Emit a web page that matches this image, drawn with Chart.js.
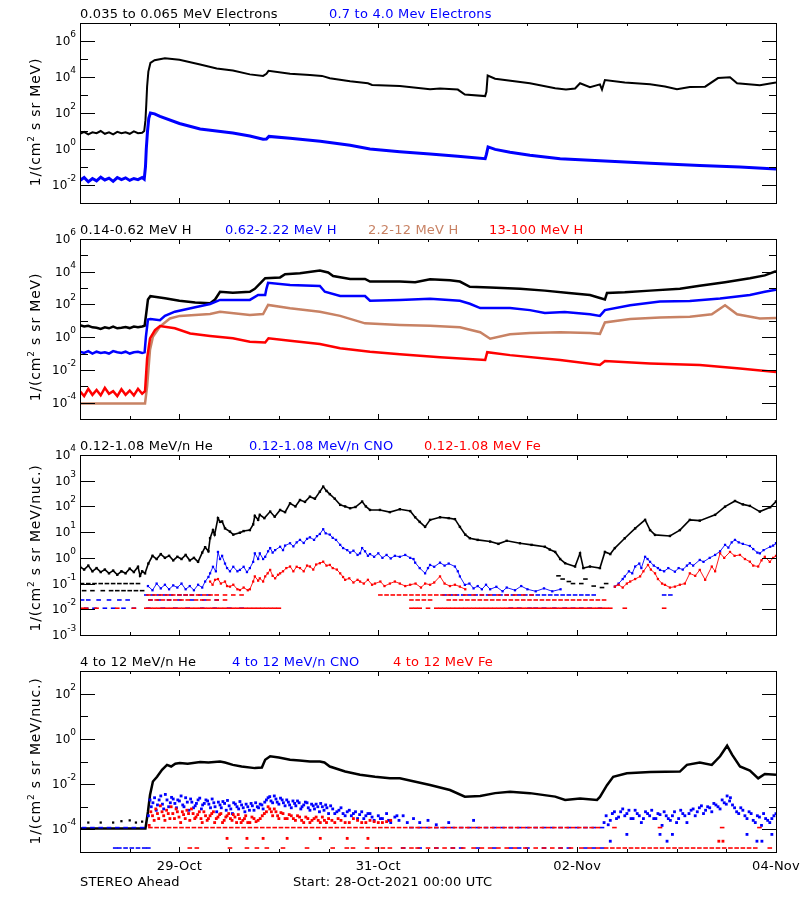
<!DOCTYPE html>
<html><head><meta charset="utf-8">
<script src="https://cdn.jsdelivr.net/npm/chart.js@4.4.0/dist/chart.umd.min.js"></script>
<style>
html,body{margin:0;padding:0;background:#fff;}
#wrap{position:relative;width:800px;height:900px;overflow:hidden;}
canvas{position:absolute;left:0;}
</style></head><body>
<div id="wrap">
<canvas id="c1" width="800" height="216" style="top:0px"></canvas>
<canvas id="c2" width="800" height="216" style="top:216px"></canvas>
<canvas id="c3" width="800" height="216" style="top:432px"></canvas>
<canvas id="c4" width="800" height="252" style="top:648px"></canvas>
</div>
<script>
const hourTicks = [0,12,24,36,48,60,72,84,96,108,120,132,144,156,168];
const hourMajor = [24,72,120,168];
const dayLabels = [['29-Oct',24],['31-Oct',72],['02-Nov',120],['04-Nov',168]];

// Panel 1: electrons  [hours since 28-Oct-2021 00:00, flux]
const eLow = [[0,7],[1,9],[2,6.5],[3,8.5],[4,7.5],[5,10],[6,7],[7,8.5],[8,6.5],[9,9],[10,7.5],[11,8.5],[12,7],[13,9.5],[14,7.5],[15,8],[15.5,10],[15.8,40],[16,300],[16.2,3e3],[16.5,2e4],[17,6e4],[18,8.5e4],[20.5,1.1e5],[24,9e4],[29,5e4],[33,3e4],[36.9,2.3e4],[41,1.4e4],[44.2,1.15e4],[45,1.5e4],[45.5,2.2e4],[50.7,1.5e4],[55.5,1.3e4],[58.4,1.15e4],[60.3,8.5e3],[65.2,5.8e3],[69.5,4.5e3],[70.5,3.6e3],[77.2,3.2e3],[84.5,2.1e3],[86.9,2.3e3],[91.2,2e3],[92.9,1.05e3],[97.8,870],[98.1,1.5e3],[98.4,1.2e4],[100.2,8e3],[108.6,4.5e3],[114.7,2.4e3],[117.3,2e3],[119.5,2.3e3],[120.7,4.5e3],[123.1,2.7e3],[125.5,3.9e3],[126,2e3],[126.7,6.8e3],[131.5,4.9e3],[137.6,3.9e3],[141.2,3e3],[144.1,2.1e3],[147.2,2.8e3],[150.9,2.9e3],[154,8.7e3],[156.9,9.6e3],[158.6,4.5e3],[164.1,3.5e3],[168,5e3]];
const eHigh = [[0,0.018],[1,0.026],[2,0.015],[3,0.023],[4,0.017],[5,0.027],[6,0.019],[7,0.024],[8,0.016],[9,0.026],[10,0.02],[11,0.025],[12,0.018],[13,0.023],[14,0.02],[15,0.026],[15.5,0.021],[15.8,0.1],[16,1],[16.3,10],[16.6,50],[17,100],[18,90],[19.3,65],[24,26],[29,13],[36.9,7.8],[41,5.3],[44.2,3.5],[45,3.6],[45.6,5],[50.7,3.9],[58,2.7],[65.2,1.6],[70,1],[77.2,0.7],[84.5,0.53],[91.2,0.39],[97.8,0.29],[98.1,0.5],[98.5,1.3],[100.2,0.95],[103.8,0.66],[108.6,0.45],[115.9,0.29],[125.5,0.22],[137.6,0.16],[149.6,0.12],[159.3,0.1],[168,0.078]];

// Panel 2: protons
const hA = [[0,5.5],[1,4.5],[2,5],[3,4],[4,3.8],[5,3.2],[6,4],[7,3.5],[8,4.5],[9,3.5],[10,3.8],[11,4.2],[12,3.6],[13,4.5],[14,4],[15,4.5],[15.6,5],[16,30],[16.4,200],[17,320],[18,300],[20.5,240],[24,170],[27.8,130],[31.4,120],[32.6,200],[33.8,600],[36.9,520],[41,600],[42.2,900],[43.9,2.5e3],[44.7,4e3],[48.3,4.5e3],[49.5,7e3],[53.1,8e3],[57.9,1.2e4],[59.9,9e3],[61.1,5.5e3],[65.2,3.6e3],[68.8,3.6e3],[70,2.5e3],[77.2,2.5e3],[80.9,2.3e3],[84.5,3.5e3],[89.3,3e3],[91.7,2.5e3],[94.1,1.2e3],[99,1.1e3],[106.2,900],[112.2,700],[118,500],[123.1,380],[125.5,250],[126.7,200],[127.2,500],[131.5,550],[137.6,700],[144.8,900],[149.6,1.4e3],[155.7,2.3e3],[161.7,4e3],[165.3,6e3],[168,1.1e4]];
const hB = [[0,0.13],[1,0.11],[2,0.14],[3,0.1],[4,0.13],[5,0.11],[6,0.12],[7,0.1],[8,0.14],[9,0.12],[10,0.11],[11,0.13],[12,0.1],[13,0.12],[14,0.13],[15,0.11],[15.6,0.12],[15.9,1],[16.4,12],[17,13],[19.3,11],[20.5,20],[22.9,36],[27.8,67],[31.4,107],[33.8,190],[41,190],[43,380],[44.7,380],[45,900],[45.4,2.1e3],[50.7,1.55e3],[57.9,1.35e3],[59.1,600],[62.8,330],[68.8,330],[70,170],[77.2,190],[84.5,220],[91.7,170],[94.1,110],[96.6,60],[103.8,60],[108.6,45],[112.2,30],[117,35],[123.1,25],[125.5,20],[126.7,45],[132.8,90],[140,150],[147.2,160],[154.5,230],[161.7,380],[165.3,600],[168,800]];
const hC = [[0,9e-5],[15.7,9e-5],[16.2,1e-3],[16.9,0.17],[17.6,1.07],[19.3,4.4],[21.7,14],[24.1,20],[31.4,26],[33.8,36],[41,23],[44.2,26],[45.4,93],[50.7,58],[57.9,36],[62.8,20],[68.8,7],[77.2,5.6],[84.5,5],[91.7,4],[96.6,2],[99,0.8],[103.8,1.5],[108.6,1.8],[115.9,2],[123.1,1.8],[125.5,1.6],[126.7,8],[132.8,13],[140,16],[147.2,18],[152.5,25],[155.7,90],[158.6,25],[164.1,14],[168,15]];
const hD = [[0,5e-4],[1,2.5e-4],[2,7e-4],[3,3e-4],[4,6e-4],[5,2.8e-4],[6,8e-4],[7,3.5e-4],[8,5e-4],[9,2.5e-4],[10,6.5e-4],[11,3e-4],[12,5.5e-4],[13,2.8e-4],[14,7e-4],[15,3.5e-4],[15.7,5e-4],[16.2,0.05],[16.9,0.85],[18.1,2.7],[19.3,4.8],[22.9,3.5],[26.6,1.7],[31.4,1.2],[36.9,0.85],[41,0.53],[44.7,0.47],[45.5,0.85],[50.7,0.61],[57.9,0.38],[62.8,0.21],[70,0.13],[77.2,0.09],[86.9,0.06],[97.8,0.04],[98.3,0.12],[103.8,0.08],[115.9,0.04],[125.5,0.02],[126.7,0.035],[137.6,0.025],[149.6,0.02],[159.3,0.012],[168,0.0075]];

// Panel 3: 0.12-1.08 MeV/n ions
const lHe = [[0,0.45],[1,0.35],[2,0.5],[3,0.3],[4,0.4],[5,0.28],[6,0.35],[7,0.25],[8,0.32],[9,0.22],[10,0.3],[11,0.25],[12,0.38],[13,0.28],[14,0.45],[14.5,0.2],[15,0.3],[15.7,0.25],[16.5,0.6],[17.5,1.2],[18.5,0.9],[19.5,1.4],[20.5,1],[21.5,1.2],[22.5,0.8],[23.5,1.1],[24.5,0.9],[25.5,1.3],[26.5,0.8],[27.5,1],[28.5,0.7],[29.5,1.6],[30.2,2.6],[31,1.8],[31.4,5.8],[32.1,12],[32.5,8],[33.3,35],[33.8,25],[34.3,26],[35,14],[36.2,10.5],[37,8],[38.6,9.5],[39.5,11],[41,12],[41.8,20],[42.2,43],[43,30],[43.4,47],[44.5,35],[45.9,63],[47,40],[48.3,73],[49.5,60],[50.7,132],[52,100],[53.1,178],[54.3,150],[55.5,240],[56.7,200],[57.9,375],[58.7,590],[59.5,400],[60.3,300],[61.5,200],[62.8,115],[64,100],[65.2,85],[66.5,95],[68.1,155],[69,100],[70,73],[72.4,73],[74.8,60],[77.2,78],[79.7,66],[80.9,38],[82,25],[83.3,16],[84.5,30],[86.9,38],[89,35],[90.5,32],[91.7,16],[93,8],[94.1,5.8],[96,5],[99,4.3],[101,3.5],[103,4.6],[106.2,3.7],[109,3.2],[112.2,2.7],[113.4,2.1],[114.7,1.7],[115.9,0.9],[117.1,0.62],[119.5,0.46],[120.7,1.5],[121.5,0.4],[123.1,0.46],[125.5,0.4],[126.7,1.7],[128,1.4],[129.1,2.4],[131.5,5.8],[134,14],[136.4,30],[137.6,12],[138.8,7.8],[142.4,7.1],[144.8,12],[147.2,30],[149.6,28],[153.3,47],[155.7,98],[158.1,163],[160,120],[161.7,105],[164.1,63],[166.6,93],[168,155]];
const lHeLow = [[0.5,0.1],[2,0.1],[3.5,0.1],[5,0.1],[6.5,0.1],[8,0.1],[9.5,0.1],[11,0.1],[12.5,0.1],[14,0.1],[1,0.053],[3,0.053],[5.5,0.053],[7.5,0.053],[9,0.053],[10.5,0.053],[12,0.053],[13.5,0.053],[15,0.053],[115.5,0.2],[116.5,0.15],[118,0.12],[119,0.1],[121,0.1],[122,0.15],[124,0.08],[126,0.07],[127,0.1]];
const lCNO = [[16.4,0.08],[17.5,0.055],[18.5,0.1],[19.5,0.065],[20.5,0.09],[21.5,0.06],[22.5,0.085],[23.5,0.07],[24.5,0.1],[25.5,0.06],[26.5,0.08],[27.5,0.055],[28.5,0.09],[29.5,0.07],[30.2,0.12],[31,0.18],[31.4,0.25],[32.1,0.45],[32.8,0.3],[33.3,1.7],[33.8,0.9],[34.3,1.2],[35,0.6],[35.5,0.4],[36.2,0.3],[37,0.45],[38,0.3],[38.6,0.34],[39.5,0.45],[40.3,0.28],[41,0.4],[41.8,0.7],[42.2,1.5],[43,0.9],[43.4,1.5],[44.2,0.9],[44.7,1.1],[45.4,1.8],[45.9,2.4],[46.5,1.6],[47.1,2],[48.3,2.7],[49,2],[49.5,3],[50.7,3.7],[51.5,2.8],[52.3,4],[53.1,5],[54,3.8],[54.8,5.5],[55.5,6.3],[56.5,5],[57.2,7],[57.9,8.5],[58.7,13],[59.3,9],[60.3,8],[61,6],[61.8,5],[62.8,3.2],[63.5,2.4],[64.5,2],[65.2,1.6],[66,1.9],[67,1.3],[67.6,1.5],[68.1,2.4],[68.8,1.8],[69.5,1.2],[70,1.4],[71,1.1],[72,1.5],[73,1],[74,1.3],[75,0.95],[76,1.2],[77.2,1.1],[78.5,1.3],[79.7,1],[80.5,0.9],[80.9,0.65],[82,0.4],[83.3,0.25],[84,0.4],[84.5,0.53],[85.5,0.45],[86.9,0.65],[88,0.5],[89,0.6],[90.5,0.46],[91.2,0.3],[91.7,0.19],[92.9,0.089],[94,0.1],[95,0.065],[96,0.08],[97,0.06],[98,0.09],[99,0.06],[100.5,0.075],[102,0.05],[103,0.07],[105,0.055],[106.5,0.08],[108,0.06],[110,0.05],[112,0.065],[114,0.05],[116,0.06],[122,null],[129.1,0.076],[130,0.1],[131,0.15],[131.5,0.19],[132.5,0.3],[133.3,0.25],[134,0.46],[135,0.6],[135.5,0.4],[136.4,1.1],[137,0.9],[137.6,0.7],[138.5,0.5],[139.5,0.4],[140,0.34],[141,0.3],[142,0.4],[143.6,0.29],[144.5,0.4],[145.5,0.35],[146.5,0.5],[147.2,0.62],[148,0.5],[149.6,0.83],[150.5,0.7],[152,1],[153.3,1.3],[154.5,1.8],[155.7,3.2],[156.5,2.5],[157.3,4],[158.1,5],[159,4],[160,3.5],[161.7,2.9],[162.5,2.2],[163.5,1.6],[164.1,1.5],[165,2],[166.6,2.7],[167.3,3],[168,3.7]];
const lFe = [[31.4,0.12],[32,0.09],[32.6,0.14],[33.3,0.15],[34,0.1],[35,0.12],[35.5,0.08],[36.2,0.076],[37,0.09],[38,0.06],[38.6,0.056],[39.5,0.07],[40.5,0.055],[41,0.06],[41.8,0.12],[42.2,0.19],[43,0.13],[43.4,0.16],[44.2,0.12],[44.7,0.19],[45.3,0.25],[45.9,0.34],[46.5,0.2],[47.1,0.16],[47.8,0.22],[48.3,0.25],[49,0.3],[49.8,0.4],[50.7,0.46],[51.5,0.3],[52.3,0.45],[53.1,0.4],[54,0.3],[54.8,0.5],[55.5,0.46],[56.3,0.35],[57,0.55],[57.9,0.62],[58.7,0.71],[59.5,0.5],[60.3,0.53],[61,0.4],[62,0.35],[62.8,0.25],[63.5,0.18],[64,0.14],[65,0.16],[66,0.11],[67,0.14],[67.6,0.12],[68.5,0.1],[69.5,0.14],[70.5,0.09],[71.2,0.1],[72.5,0.12],[73.5,0.08],[74.8,0.1],[76,0.12],[77.2,0.1],[78.5,0.08],[79.7,0.09],[81,0.1],[82.3,0.07],[83.3,0.1],[84.5,0.09],[85.5,0.11],[86.9,0.19],[88,0.1],[89.3,0.08],[90.5,0.09],[91.7,0.076],[93,0.06],[110,null],[129.1,0.076],[130,0.09],[131,0.07],[132,0.1],[132.8,0.12],[134,0.15],[135.2,0.19],[136,0.3],[137.1,0.53],[137.8,0.35],[138.8,0.25],[139.5,0.15],[140.5,0.1],[141.2,0.089],[142.4,0.07],[143.6,0.076],[144.8,0.09],[146,0.1],[147.2,0.25],[148.5,0.2],[149.6,0.34],[150.9,0.14],[152.5,0.46],[153.3,0.3],[154.5,1.5],[155.5,1],[156.9,1.7],[158,1.2],[159.3,1.3],[160.5,0.9],[161.7,0.71],[162.5,0.5],[163.7,0.46],[164.5,0.8],[165.3,1.1],[166.5,0.7],[167.3,1],[168,1.2]];
const lFloor = [0.036, 0.023, 0.011];
const lCnoF1 = [16,17.5,19,20.5,22,24,25.5,27,29,31,88,89.5,91,92.5,94,95.5,97,98.5,100,101.5,103,104.5,106,107.5,109,110.5,112,113.5,115,116.5,118,119.5,121,122.5,124,141,142.5];
const lCnoF2 = [0.5,2,4.5,7,9.5,11.5,17,19,21.5,24,27,30,33];
const lCnoF3 = [1.5,3.5,6,8,10.5,13,16.5,20,23,26,29.5,32.5,36,39,104,106,108.5,110,112,114.5,117,119,121,123,125.5];
const lFeF1 = [16.5,18,19.5,21,22.5,24,25.5,27,28.5,30,31.5,33,35,37,39,72.5,74,75.5,77,78.5,80,81.5,83,84.5,86,87.5,89,90.5,93,95,97,99,101,103,105,107,109];
const lFeF2 = [17,18.5,20,21.5,23,24.5,26,28,29.5,31,33,35,80,81.5,83,84.5,89,90.5,92,93.5,95,96.5,98,99.5,101,102.5,104,105.5,107,108.5,110,111.5,113,114.5,116,117.5,119,120.5,122,123.5,125,126.5];
const lFeF3 = [0.5,1.5,4,9,13,16,17,18,19,20,21,22,23,24,25,26,27,28,29,30,31,32,33,34,35,36,37,38,39,40,41,42,43,44,45,46,47,48,80,81,82,84,86,87,88,89,90,91,92,93,94,95,96,97,98,99,100,101,102,103,104,105,106,107,108,109,110,111,112,113,114,115,116,117,118,119,120,121,122,123,124,125,126,127,128,131.5,141];

// Panel 4: 4-12 MeV/n ions
const hHe = [[0,1.1e-4],[15.8,1.1e-4],[16.4,6e-4],[16.9,3.3e-3],[17.6,0.013],[18.6,0.021],[19.8,0.043],[21,0.071],[22,0.06],[23,0.08],[24.1,0.085],[26,0.08],[29,0.094],[31,0.09],[33.8,0.1],[35,0.09],[36.9,0.071],[39,0.06],[42.2,0.051],[43.9,0.054],[44.7,0.12],[45.9,0.17],[48,0.15],[50.7,0.12],[53,0.11],[55.5,0.1],[57.9,0.1],[59,0.09],[60.3,0.06],[64,0.036],[67.6,0.026],[71.2,0.021],[74.8,0.018],[77.2,0.018],[84.5,9.1e-3],[89.3,5.5e-3],[92.9,2.8e-3],[96.6,3e-3],[100.2,4e-3],[103.8,4.6e-3],[108.6,4e-3],[114.7,2.8e-3],[117.1,2e-3],[120.7,2.3e-3],[124.8,2e-3],[125.5,2.7e-3],[127.2,9e-3],[128.7,0.021],[132,0.03],[137.6,0.034],[144.8,0.036],[146.5,0.071],[149.6,0.09],[152.5,0.071],[154.5,0.17],[156.2,0.5],[157.4,0.2],[159.3,0.06],[161.7,0.04],[163.7,0.018],[165.3,0.028],[168,0.026]];
const hHeDots = [[2,2e-4],[5,2e-4],[8,2e-4],[10,2.3e-4],[12,2.5e-4],[13.5,2e-4],[15,2.2e-4]];
const hCNO = [[16.5,4e-4],[17.2,1e-3],[18,2.5e-3],[18.7,1.2e-3],[19.5,3e-3],[20.2,8e-4],[21,2e-3],[21.8,1.5e-3],[22.5,2.2e-3],[23.3,9e-4],[24,1.8e-3],[24.8,1.2e-3],[25.5,2.5e-3],[26.3,7e-4],[27,1.6e-3],[27.8,1.1e-3],[28.5,2e-3],[29.3,8e-4],[30,1.4e-3],[30.8,1.8e-3],[31.5,9e-4],[32.3,1.5e-3],[33,6e-4],[33.8,1.2e-3],[34.5,1.7e-3],[35.3,7e-4],[36,1.1e-3],[36.8,5e-4],[37.5,1.3e-3],[38.3,8e-4],[39,1.2e-3],[39.8,6e-4],[40.5,1e-3],[41.3,1.4e-3],[42,7e-4],[42.8,1e-3],[43.5,1.3e-3],[44.2,8e-4],[45,2e-3],[45.8,2.8e-3],[46.5,1.5e-3],[47.3,2.2e-3],[48,1.3e-3],[48.8,2e-3],[49.5,1.1e-3],[50.3,1.6e-3],[51,9e-4],[51.8,1.4e-3],[52.5,1.8e-3],[53.3,8e-4],[54,1.2e-3],[54.8,1.5e-3],[55.5,7e-4],[56.3,1.1e-3],[57,1.3e-3],[57.8,6e-4],[58.5,1e-3],[59.3,1.2e-3],[60,5e-4],[61,8e-4],[62,6e-4],[63,9e-4],[64,4e-4],[65,7e-4],[66,5e-4],[67,3e-4],[68,6e-4],[69,4e-4],[70,5e-4],[71,2.5e-4],[72,4e-4],[73,3e-4],[74,5e-4],[75,2e-4],[76,3.5e-4],[77,2.5e-4],[78,4e-4],[79,2e-4],[80.5,3e-4],[82,2e-4],[84,2.5e-4],[86,1.6e-4],[89,2e-4],[95,2.5e-4],[126.5,2e-4],[127.5,1.6e-4],[128.5,5e-4],[129.5,3e-4],[130.5,6e-4],[131.5,4e-4],[132.5,7e-4],[133.5,3e-4],[134.5,5e-4],[135.5,2e-4],[136.5,6e-4],[137.5,4e-4],[138.5,3e-4],[139.5,5e-4],[140.5,1.5e-4],[141.5,4e-4],[142.5,2.5e-4],[143.5,6e-4],[144.5,3e-4],[145.5,5e-4],[146.5,2e-4],[147.5,7e-4],[148.5,4e-4],[149.5,9e-4],[150.5,5e-4],[151.5,1e-3],[152.5,6e-4],[153.5,1.2e-3],[154.5,8e-4],[155.5,1.5e-3],[156.2,3e-3],[156.8,1.8e-3],[157.5,1.2e-3],[158.5,6e-4],[159.5,9e-4],[160.5,4e-4],[161.5,6e-4],[162.5,2.5e-4],[163.5,4e-4],[164.5,1.5e-4],[165.5,3e-4],[166.5,2e-4],[167.5,4e-4],[128,3e-5],[132,6e-5],[140,6e-5],[141.7,3e-5],[143,6e-5],[161,6e-5],[163.4,3e-5],[164.6,3e-5],[167,6e-5]];
const hCNO2 = [[16.9,2e-3],[17.6,1.5e-3],[18.4,7e-4],[19.1,2e-3],[19.9,1.3e-3],[20.6,3.5e-3],[21.4,1e-3],[22.1,2.6e-3],[22.9,1.4e-3],[23.6,2e-3],[24.4,3e-3],[25.1,1e-3],[25.9,1.6e-3],[26.7,2.2e-3],[27.4,9e-4],[28.1,1.4e-3],[28.9,2.4e-3],[29.6,1.2e-3],[30.4,2e-3],[31.1,1.3e-3],[31.9,2.2e-3],[32.6,1e-3],[33.4,1.6e-3],[34.1,9e-4],[34.9,1.4e-3],[35.6,1.9e-3],[36.4,8e-4],[37.1,1.5e-3],[37.9,1e-3],[38.6,1.7e-3],[39.4,9e-4],[40.1,1.3e-3],[40.9,7e-4],[41.6,1.1e-3],[42.4,1.5e-3],[43.1,9e-4],[43.9,1.2e-3],[44.6,1.6e-3],[45.4,2.5e-3],[46.1,1.8e-3],[46.9,3e-3],[47.6,1.6e-3],[48.4,2.4e-3],[49.1,1.5e-3],[49.9,2e-3],[50.6,1.2e-3],[51.4,1.8e-3],[52.1,1.1e-3],[52.9,1.5e-3],[53.6,1e-3],[54.4,1.6e-3],[55.1,9e-4],[55.9,1.3e-3],[56.6,8e-4],[57.4,1e-3],[58.1,1.4e-3],[58.9,7e-4],[59.6,9e-4],[60.5,1.1e-3],[61.5,5e-4],[62.5,7e-4],[63.5,5e-4],[64.5,6e-4],[65.5,4e-4],[66.5,6e-4],[67.5,4.5e-4],[68.5,3e-4],[69.5,5e-4],[70.5,3.5e-4],[72.5,3e-4],[74.5,2.5e-4],[76.5,4e-4],[127,4e-4],[128,2.5e-4],[129,6e-4],[130,3.5e-4],[131,8e-4],[132,5e-4],[133,3e-4],[134,7e-4],[135,4e-4],[136,3e-4],[137,5e-4],[138,7e-4],[139,3e-4],[140,4.5e-4],[141,6e-4],[142,3e-4],[143,4e-4],[144,2e-4],[145,7e-4],[146,4e-4],[147,5e-4],[148,8e-4],[149,6e-4],[150,1.1e-3],[151,7e-4],[152,9e-4],[153,1.4e-3],[154,1e-3],[155,2e-3],[156,1.3e-3],[157,2.5e-3],[158,9e-4],[159,5e-4],[160,7e-4],[161,3e-4],[162,5e-4],[163,2e-4],[164,3.5e-4],[165,5e-4],[166,2.5e-4],[167,3e-4],[168,5e-4]];
const hFe = [[16.7,1.5e-4],[17.5,4e-4],[18.3,8e-4],[19,3e-4],[19.8,6e-4],[20.5,2.5e-4],[21.3,5e-4],[22,1e-3],[22.8,3e-4],[23.5,6e-4],[24.3,2e-4],[25,4.5e-4],[25.8,7e-4],[26.5,2.5e-4],[27.3,5e-4],[28,3.5e-4],[28.8,6e-4],[29.5,2e-4],[30.3,4e-4],[31,3e-4],[31.8,5e-4],[32.5,2e-4],[33.3,3.5e-4],[34,5e-4],[34.8,2.5e-4],[35.5,4e-4],[36.3,3e-4],[37,4.5e-4],[37.8,2e-4],[38.5,3e-4],[39.3,2.5e-4],[40,4e-4],[41,2e-4],[42,3e-4],[43,2.5e-4],[44,4e-4],[45,6e-4],[45.8,8e-4],[46.5,4e-4],[47.3,6e-4],[48,3e-4],[49,5e-4],[50,3e-4],[51,4e-4],[52,2.5e-4],[53,3.5e-4],[54,2e-4],[55,3e-4],[56,2.5e-4],[57,3.5e-4],[58,2e-4],[59,2.5e-4],[60,3e-4],[61.5,2e-4],[63,2.5e-4],[65,2e-4],[67,2.5e-4],[69,2e-4],[71,2.2e-4],[73,2e-4],[75,2.5e-4],[35.5,4e-5],[40.3,4e-5],[44.2,4e-5],[50,4e-5],[58,4e-5],[64.5,4e-5],[69.5,4e-5],[154.2,3e-5],[155.2,3e-5]];
const hFe2 = [[17.1,6e-4],[17.9,2.5e-4],[18.7,5e-4],[19.4,1.1e-3],[20.2,4e-4],[20.9,7e-4],[21.7,3e-4],[22.4,5e-4],[23.2,8e-4],[23.9,3.5e-4],[24.7,6e-4],[25.4,3e-4],[26.2,5e-4],[26.9,8e-4],[27.7,3e-4],[28.4,4.5e-4],[29.2,3e-4],[29.9,6e-4],[30.7,2.5e-4],[31.4,4e-4],[32.2,6e-4],[32.9,3e-4],[33.7,4.5e-4],[34.4,2e-4],[35.2,3.5e-4],[35.9,5e-4],[36.7,2.5e-4],[37.4,3.5e-4],[38.2,4.5e-4],[38.9,2e-4],[39.7,3e-4],[40.5,2e-4],[41.5,3.5e-4],[42.5,2.2e-4],[43.5,3e-4],[44.5,5e-4],[45.4,1e-3],[46.2,6e-4],[46.9,8e-4],[47.7,4e-4],[48.5,5.5e-4],[49.5,3e-4],[50.5,4.5e-4],[51.5,3e-4],[52.5,4e-4],[53.5,2.5e-4],[54.5,3.5e-4],[55.5,2e-4],[56.5,3e-4],[57.5,2.5e-4],[58.5,3.5e-4],[59.5,2e-4],[60.8,2.5e-4],[62.3,3e-4],[64,2e-4],[66,3e-4],[68,2e-4],[70,2.5e-4],[72,2e-4],[74,2.2e-4]];
const hFloor = [1.2e-4, 1.5e-5];
const hCnoRow = [1,3,5,7,9,11,13,15,80,82,84,86,88,90,92,94,96,98,100,102,104,106,108,110,112,114,116,118,120,122,124,126];
const hCnoBot = [8.5,9.5,11,12.5,14,15.5,16.5,78,82,86,90,92,96,100,104,106,108,112,116,118,122,124,126];
const hFeRow = [17,18.5,20,21.5,23,24.5,26,27.5,29,30.5,32,33.5,35,36.5,38,39.5,41,42.5,44,45.5,47,48.5,50,51.5,53,54.5,56,57.5,59,60.5,62,63.5,65,66.5,68,69.5,71,72.5,74,75.5,77,78.5,80,81.5,83,84.5,86,87.5,89,90.5,92,93.5,95,96.5,98,99.5,101,102.5,104,105.5,107,108.5,110,111.5,113,114.5,116,117.5,119,120.5,122,123.5,125,129,140,155,164];
const hFeBot = [26.5,28.2,36.2,40.3,42.7,45.1,49,54.8,61,64.4,65.9,69.3,71.7,73.1,74.8,78,80,81.5,84,86,88,90,92.5,95,97,99,101,103,105,107.5,110,112,114,116,118.5,121,123,125,127,128.5,130,131.5,133,134.5,136,137.5,139,140.5,142,143.5,145,146.5,148,149.5,151,152.5,154,155.5,157,158.5,160,161.5,163,166.5];

const FONT = '"DejaVu Sans", "Liberation Sans", sans-serif';
const BLACK='#000000', BLUE='#0000ff', RED='#ff0000', BROWN='rgb(200,130,100)';
const pts = arr => arr.map(p => ({x:p[0], y:p[1]}));
const row = (times, v) => times.map(t => ({x:t, y:v}));
function lineDS(arr, color, w, order){ return {data:pts(arr), showLine:true, borderColor:color, borderWidth:w, pointRadius:0, tension:0, order:order}; }
function dotDS(data, color, r, order){ return {data:data, showLine:false, pointStyle:'rect', pointRadius:r, backgroundColor:color, borderWidth:0, order:order}; }
function bandDS(arr, color, w, r, order){ return {data:pts(arr), showLine:true, spanGaps:false, borderColor:color, borderWidth:w, pointStyle:'rect', pointRadius:r, pointBackgroundColor:color, pointBorderWidth:0, tension:0, order:order}; }
function dashDS(data, color, order){ return {data:data, showLine:false, pointStyle:'line', pointRadius:2.3, borderColor:color, borderWidth:1.6, order:order}; }

function txt(ctx, s, x, y, size, color, align){
  ctx.font = size + 'px ' + FONT; ctx.fillStyle = color; ctx.textAlign = align || 'left'; ctx.fillText(s, x, y);
}

const idl = {
  id: 'idl',
  afterDraw(chart, args, o){
    const ctx = chart.ctx, a = chart.chartArea, xs = chart.scales.x, ys = chart.scales.y;
    ctx.save();
    ctx.textBaseline = 'alphabetic';
    ctx.strokeStyle = '#000'; ctx.lineWidth = 1;
    ctx.strokeRect(a.left + 0.5, a.top + 0.5, a.right - a.left, a.bottom - a.top);
    ctx.beginPath();
    for (const h of hourTicks){
      const x = Math.round(xs.getPixelForValue(h)) + 0.5;
      const len = hourMajor.includes(h) ? 5 : 3;
      ctx.moveTo(x, a.bottom); ctx.lineTo(x, a.bottom - len);
      ctx.moveTo(x, a.top); ctx.lineTo(x, a.top + len);
    }
    for (const e of o.yt){
      const y = Math.round(ys.getPixelForValue(Math.pow(10, e))) + 0.5;
      const len = o.ylab.includes(e) ? 15 : 8;
      ctx.moveTo(a.left, y); ctx.lineTo(a.left + len, y);
      ctx.moveTo(a.right + 1, y); ctx.lineTo(a.right + 1 - len, y);
    }
    ctx.stroke();
    try { ctx.letterSpacing = '0.2px'; } catch(e) {}
    for (const t of o.titles) txt(ctx, t[0], t[2], a.top - 5, 13, t[1]);
    try { ctx.letterSpacing = '0.8px'; } catch(e) {}
    ctx.save();
    ctx.translate(40, o.ycy); ctx.rotate(-Math.PI/2);
    const p = o.ytitle;
    ctx.font = '14px ' + FONT; const wa = ctx.measureText(p[0]).width, wc = ctx.measureText(p[2]).width;
    ctx.font = '9px ' + FONT; const wb = ctx.measureText(p[1]).width;
    let x = -(wa + wb + wc) / 2;
    txt(ctx, p[0], x, 0, 14, '#000'); x += wa;
    txt(ctx, p[1], x, -6, 9, '#000'); x += wb;
    txt(ctx, p[2], x, 0, 14, '#000');
    ctx.restore();
    try { ctx.letterSpacing = '0px'; } catch(e) {}
    if (o.xlabels){
      try { ctx.letterSpacing = '0.2px'; } catch(e) {}
      for (const d of dayLabels) txt(ctx, d[0], xs.getPixelForValue(d[1]), a.bottom + 18, 13, '#000', 'center');
      txt(ctx, 'STEREO Ahead', 80, a.bottom + 34, 13, '#000');
      txt(ctx, 'Start: 28-Oct-2021 00:00 UTC', 293, a.bottom + 34, 13, '#000');
      try { ctx.letterSpacing = '0px'; } catch(e) {}
    }
    ctx.restore();
    // y tick labels: "10" with a raised exponent, drawn last with a clean state
    ctx.save();
    ctx.setTransform(1, 0, 0, 1, 0, 0);
    ctx.globalAlpha = 1; ctx.globalCompositeOperation = 'source-over';
    ctx.textBaseline = 'alphabetic';
    for (const e of o.ylab){
      const y = Math.round(ys.getPixelForValue(Math.pow(10, e)));
      const ex = String(e);
      ctx.font = '12px ' + FONT; const w1 = ctx.measureText('10').width;
      ctx.font = '9px ' + FONT; const w2 = ctx.measureText(ex).width;
      const x0 = Math.round(76 - w1 - w2);
      txt(ctx, '10', x0, y + 4, 12, '#000');
      txt(ctx, ex, x0 + w1, y - 4, 9, '#000');
    }
    ctx.restore();
  }
};

function makeChart(id, datasets, ymin, ymax, padBottom, opts){
  return new Chart(document.getElementById(id), {
    type: 'scatter',
    data: { datasets: datasets },
    options: {
      responsive: false, animation: false, devicePixelRatio: 1, events: [],
      layout: { padding: { left: 80, right: 24, top: 23, bottom: padBottom } },
      scales: {
        x: { type: 'linear', min: 0, max: 168, display: false },
        y: { type: 'logarithmic', min: ymin, max: ymax, display: false }
      },
      plugins: { legend: { display: false }, tooltip: { enabled: false }, idl: opts }
    },
    plugins: [idl]
  });
}

makeChart('c1', [
  lineDS(eLow, BLACK, 2, 2),
  lineDS(eHigh, BLUE, 3, 1)
], 1e-3, 1e7, 13, {
  yt: [-2,-1,0,1,2,3,4,5,6], ylab: [6,4,2,0,-2], ycy: 122,
  ytitle: ['1/(cm', '2', ' s sr MeV)'],
  titles: [['0.035 to 0.065 MeV Electrons', BLACK, 80], ['0.7 to 4.0 Mev Electrons', BLUE, 329]]
});

makeChart('c2', [
  lineDS(hA, BLACK, 2.5, 4),
  lineDS(hB, BLUE, 2.5, 3),
  lineDS(hC, BROWN, 2.5, 2),
  lineDS(hD, RED, 2.5, 1)
], 1e-5, 1e6, 13, {
  yt: [-4,-3,-2,-1,0,1,2,3,4,5,6], ylab: [6,4,2,0,-2,-4], ycy: 121,
  ytitle: ['1/(cm', '2', ' s sr MeV)'],
  titles: [['0.14-0.62 MeV H', BLACK, 80], ['0.62-2.22 MeV H', BLUE, 225], ['2.2-12 MeV H', BROWN, 368], ['13-100 MeV H', RED, 489]]
});

makeChart('c3', [
  bandDS(lHe, BLACK, 1.6, 1.7, 9),
  dashDS(pts(lHeLow), BLACK, 8),
  bandDS(lCNO, BLUE, 0.9, 1.6, 6),
  dashDS(row(lCnoF1, lFloor[0]), BLUE, 5),
  dashDS(row(lCnoF2, lFloor[1]), BLUE, 5),
  dashDS(row(lCnoF3, lFloor[2]), BLUE, 5),
  bandDS(lFe, RED, 0.9, 1.6, 3),
  dashDS(row(lFeF1, lFloor[0]), RED, 2),
  dashDS(row(lFeF2, lFloor[1]), RED, 2),
  dashDS(row(lFeF3, lFloor[2]), RED, 2)
], 1e-3, 1e4, 13, {
  yt: [-3,-2,-1,0,1,2,3,4], ylab: [4,3,2,1,0,-1,-2,-3], ycy: 116,
  ytitle: ['1/(cm', '2', ' s sr MeV/nuc.)'],
  titles: [['0.12-1.08 MeV/n He', BLACK, 80], ['0.12-1.08 MeV/n CNO', BLUE, 249], ['0.12-1.08 MeV Fe', RED, 424]]
});

makeChart('c4', [
  lineDS(hHe, BLACK, 2.5, 9),
  dotDS(pts(hHeDots), BLACK, 1.6, 8),
  dotDS(pts(hCNO), BLUE, 2, 6),
  dotDS(pts(hCNO2), BLUE, 2, 6),
  dashDS(row(hCnoRow, hFloor[0]), BLUE, 5),
  dashDS(row(hCnoBot, hFloor[1]), BLUE, 5),
  dotDS(pts(hFe), RED, 2, 3),
  dotDS(pts(hFe2), RED, 2, 3),
  dashDS(row(hFeRow, hFloor[0]), RED, 2),
  dashDS(row(hFeBot, hFloor[1]), RED, 2)
], 1e-5, 1e3, 48, {
  yt: [-4,-3,-2,-1,0,1,2], ylab: [2,0,-2,-4], ycy: 113,
  ytitle: ['1/(cm', '2', ' s sr MeV/nuc.)'],
  titles: [['4 to 12 MeV/n He', BLACK, 80], ['4 to 12 MeV/n CNO', BLUE, 232], ['4 to 12 MeV Fe', RED, 393]],
  xlabels: true
});
</script>
</body></html>
